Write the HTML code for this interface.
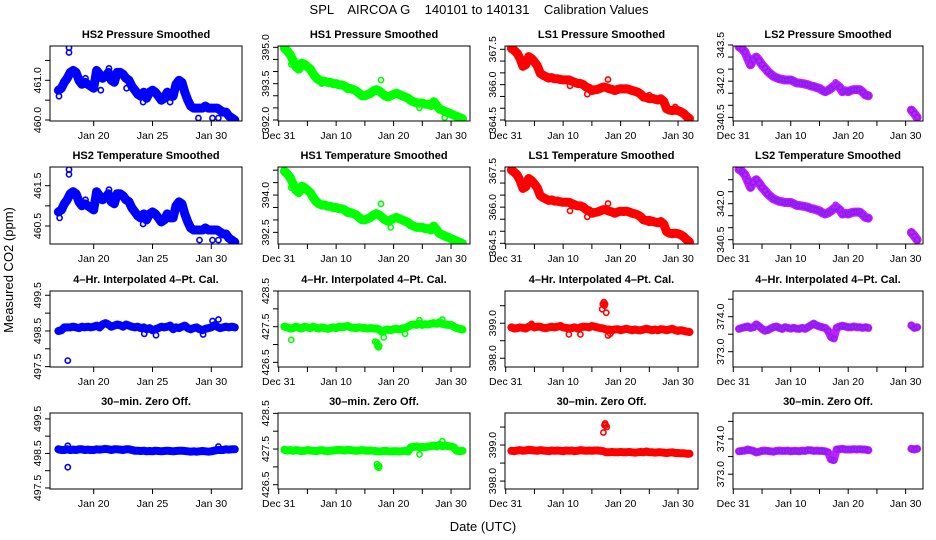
<!DOCTYPE html>
<html><head><meta charset="utf-8"><title>SPL AIRCOA G Calibration Values</title>
<style>
html,body{margin:0;padding:0;background:#fff;}
svg{display:block;font-family:"Liberation Sans",Arial,sans-serif;}
</style></head>
<body>
<svg id="chart" width="936" height="540" viewBox="0 0 936 540" xmlns="http://www.w3.org/2000/svg">
<rect x="0" y="0" width="936" height="540" fill="#fff"/>
<text x="479" y="14" font-size="13" text-anchor="middle" style="white-space:pre">SPL    AIRCOA G    140101 to 140131    Calibration Values</text>
<text x="13" y="270" font-size="13" text-anchor="middle" transform="rotate(-90 13 270)">Measured CO2 (ppm)</text>
<text x="483" y="531" font-size="13" text-anchor="middle">Date (UTC)</text>
<g id="panels"></g>
</svg>
<script>
// Shared date categories (day of January; Dec 31 = 0)
const daysA = [17,17.25,17.5,17.75,18,18.25,18.5,18.75,19,19.25,19.5,19.75,20,20.25,20.5,20.75,21,21.25,21.5,21.75,22,22.25,22.5,22.75,23,23.25,23.5,23.75,24,24.25,24.5,24.75,25,25.25,25.5,25.75,26,26.25,26.5,26.75,27,27.25,27.5,27.75,28,28.25,28.5,28.75,29,29.25,29.5,29.75,30,30.25,30.5,30.75,31,31.25,31.5,31.75,32];
const daysB = [1,1.5,2,2.5,3,3.5,4,4.5,5,5.5,6,6.5,7,7.5,8,8.5,9,9.5,10,10.5,11,11.5,12,12.5,13,13.5,14,14.5,15,15.5,16,16.5,17,17.5,18,18.5,19,19.5,20,20.5,21,21.5,22,22.5,23,23.5,24,24.5,25,25.5,26,26.5,27,27.5,28,28.5,29,29.5,30,30.5,31,31.5,32];

// Tick labels
const tickDaysA = [20,25,30];
const tickLabelsA = ["Jan 20","Jan 25","Jan 30"];
const tickDaysB = [0,5,10,15,20,25,30];
const tickLabelsB = ["Dec 31","","Jan 10","","Jan 20","","Jan 30"];

// Row 1 - Pressure smoothed
const hs2P = [460.75,460.8,460.95,461.05,461.2,461.25,461.2,461.0,460.9,460.95,460.9,460.85,460.8,461.25,461.15,461.05,461.1,461.2,461.0,460.95,461.2,461.2,461.15,461.05,461.0,460.85,460.75,460.65,460.6,460.7,460.55,460.7,460.75,460.7,460.6,460.5,460.55,460.7,460.6,460.6,460.9,461.0,460.95,460.7,460.5,460.35,460.3,460.3,460.3,460.3,460.35,460.3,460.3,460.3,460.3,460.25,460.2,460.2,460.1,460.05,460.0];
const hs2PExtraDays = [17.9,17.9,17.05,28.9,30.1,30.6,20.6,22.8,26.5,19.3,21.3,24.2];
const hs2PExtraVals = [461.7,461.82,460.6,460.05,460.05,460.05,460.75,460.8,460.45,461.05,461.3,460.45];
const hs1P = [394.96,394.85,394.7,394.45,394.2,394.1,394.35,394.3,394.2,394.1,393.9,393.75,393.65,393.6,393.6,393.55,393.55,393.5,393.5,393.45,393.45,393.4,393.3,393.3,393.25,393.2,393.1,393.0,393.0,393.05,393.1,393.2,393.25,393.2,393.1,393.0,392.95,393.0,393.05,393.1,393.05,393.0,392.95,392.9,392.8,392.75,392.7,392.7,392.7,392.65,392.65,392.6,392.75,392.6,392.45,392.4,392.35,392.3,392.25,392.2,392.15,392.1,392.05];
const hs1PExtraDays = [2.2,17.8,24.5,27,28.9,7.5];
const hs1PExtraVals = [394.3,393.65,392.5,392.8,392.1,393.5];
const ls1P = [367.54,367.45,367.33,367.1,366.78,366.85,367.19,367.1,366.97,366.8,366.48,366.4,366.34,366.28,366.3,366.25,366.25,366.22,366.2,366.2,366.2,366.15,366.1,366.05,366.05,366.0,365.9,365.85,365.75,365.78,365.8,365.85,365.9,365.88,365.83,365.8,365.75,365.8,365.83,365.82,365.83,365.8,365.75,365.72,365.68,365.6,365.47,365.45,365.4,365.42,365.38,365.35,365.4,365.3,364.98,364.92,364.9,364.92,364.9,364.85,364.77,364.65,364.56];
const ls1PExtraDays = [17.8,11.2,25.0,29.5,14.2];
const ls1PExtraVals = [366.22,365.95,365.55,365.05,365.6];
const ls2P = [343.43,343.35,343.22,342.95,342.68,342.9,343.0,342.85,342.68,342.55,342.4,342.3,342.2,342.15,342.1,342.08,342.05,342.05,342.05,342.0,341.93,341.92,341.9,341.88,341.85,341.8,341.78,341.74,341.7,341.62,341.57,341.62,341.7,341.8,341.85,341.75,341.57,341.6,341.57,341.62,341.65,341.65,341.65,341.55,341.43,341.4,null,null,null,null,null,null,null,null,null,null,null,null,null,null,340.8,340.66,340.5];
const ls2PExtraDays = [17.8];
const ls2PExtraVals = [341.95];

// Row 2 - Temperature smoothed
const hs2T = [460.85,460.9,461.05,461.15,461.3,461.35,461.3,461.1,461.0,461.05,461.0,460.95,460.9,461.35,461.25,461.15,461.2,461.3,461.1,461.05,461.3,461.3,461.25,461.15,461.1,460.95,460.85,460.75,460.7,460.8,460.65,460.8,460.85,460.8,460.7,460.6,460.65,460.8,460.7,460.7,461.0,461.1,461.05,460.8,460.6,460.45,460.4,460.4,460.4,460.4,460.45,460.4,460.4,460.4,460.4,460.35,460.3,460.3,460.2,460.15,460.1];
const hs2TExtraDays = [17.9,17.9,17.1,29,30.1,30.6,19.3,21.3,24.2];
const hs2TExtraVals = [461.9,461.78,460.7,460.15,460.15,460.15,461.15,461.4,460.55];
const hs1T = [394.96,394.85,394.7,394.45,394.2,394.1,394.35,394.3,394.2,394.1,393.9,393.75,393.65,393.6,393.6,393.55,393.55,393.5,393.5,393.45,393.45,393.4,393.3,393.3,393.25,393.2,393.1,393.0,393.0,393.05,393.1,393.2,393.25,393.2,393.1,393.0,392.95,393.0,393.05,393.1,393.05,393.0,392.95,392.9,392.8,392.75,392.7,392.7,392.7,392.65,392.65,392.6,392.75,392.6,392.45,392.4,392.35,392.3,392.25,392.2,392.15,392.1,392.05];
const hs1TExtraDays = [2.2,7.5,17.8,19.5,28.9,26.5];
const hs1TExtraVals = [394.3,393.6,393.65,392.7,392.3,392.55];
const ls1T = [367.54,367.45,367.33,367.1,366.78,366.85,367.19,367.1,366.97,366.8,366.48,366.4,366.34,366.28,366.3,366.25,366.25,366.22,366.2,366.2,366.2,366.15,366.1,366.05,366.05,366.0,365.9,365.85,365.75,365.78,365.8,365.85,365.9,365.88,365.83,365.8,365.75,365.8,365.83,365.82,365.83,365.8,365.75,365.72,365.68,365.6,365.47,365.45,365.4,365.42,365.38,365.35,365.4,365.3,364.98,364.92,364.9,364.92,364.9,364.85,364.77,364.65,364.56];
const ls1TExtraDays = [17.8,11.2,14.2,25];
const ls1TExtraVals = [366.15,365.85,365.6,365.5];
const ls2T = [343.43,343.35,343.22,342.95,342.68,342.9,343.0,342.85,342.68,342.55,342.4,342.3,342.2,342.15,342.1,342.08,342.05,342.05,342.05,342.0,341.93,341.92,341.9,341.88,341.85,341.8,341.78,341.74,341.7,341.62,341.57,341.62,341.7,341.8,341.85,341.75,341.57,341.6,341.57,341.62,341.65,341.65,341.65,341.55,341.43,341.4,null,null,null,null,null,null,null,null,null,null,null,null,null,null,340.8,340.66,340.5];
const ls2TExtraDays = [17.8];
const ls2TExtraVals = [341.95];

// Row 3 - 4-Hr interpolated 4-Pt cal
const hs2C = [498.5,498.52,498.6,498.6,498.6,498.62,498.6,498.58,498.62,498.6,498.62,498.6,498.62,498.65,498.6,498.68,498.72,498.68,498.62,498.65,498.68,498.66,498.62,498.68,498.65,498.62,498.6,498.62,498.58,498.6,498.55,498.58,498.52,498.55,498.58,498.62,498.6,498.62,498.65,498.55,498.6,498.58,498.62,498.65,498.58,498.55,498.58,498.6,498.55,498.52,498.56,498.58,498.6,498.66,498.62,498.58,498.6,498.62,498.6,498.62,498.6];
const hs2CExtraDays = [17.8,30.1,30.6,24.3,25.3,29.3];
const hs2CExtraVals = [497.67,498.78,498.82,498.42,498.38,498.4];
const hs1C = [427.5,427.48,427.45,427.46,427.5,427.47,427.45,427.5,427.48,427.46,427.5,427.47,427.45,427.48,427.46,427.44,427.46,427.48,427.46,427.5,427.48,427.5,427.52,427.48,427.47,427.46,427.48,427.47,427.46,427.45,427.46,427.45,427.45,427.42,427.35,427.4,427.42,427.4,427.43,427.44,427.42,427.45,427.46,427.5,427.55,427.56,427.55,427.58,427.55,427.57,427.56,427.58,427.6,427.58,427.62,427.58,427.56,427.55,427.55,427.5,427.46,427.44,427.42];
const hs1CExtraDays = [2.2,16.8,17.1,17.2,17.3,17.4,17.5,18.3,28.5,24.5,22];
const hs1CExtraVals = [427.13,427.08,427.06,426.95,427.0,426.92,426.97,427.2,427.7,427.68,427.3];
const ls1C = [398.88,398.85,398.86,398.88,398.87,398.85,398.9,398.92,398.88,398.9,398.9,398.87,398.86,398.88,398.9,398.88,398.9,398.92,398.88,398.87,398.85,398.86,398.88,398.85,398.88,398.9,398.9,398.88,398.92,398.9,398.88,398.86,398.85,398.82,398.82,398.8,398.82,398.83,398.8,398.82,398.84,398.82,398.8,398.82,398.8,398.8,398.82,398.84,398.82,398.8,398.82,398.8,398.83,398.82,398.8,398.82,398.84,398.8,398.78,398.8,398.78,398.76,398.75];
const ls1CExtraDays = [16.8,16.9,17.1,17.2,17.3,17.5,11,13,4.5,17.8,18.2];
const ls1CExtraVals = [399.4,399.55,399.6,399.5,399.55,399.3,398.68,398.68,398.98,398.65,398.7];
const ls2C = [373.65,373.68,373.7,373.72,373.68,373.7,373.78,373.72,373.65,373.6,373.62,373.66,373.7,373.72,373.68,373.65,373.7,373.68,373.66,373.68,373.66,373.65,373.68,373.65,373.7,373.75,373.8,373.75,373.72,373.7,373.68,373.6,373.42,373.38,373.68,373.72,373.74,373.72,373.7,373.7,373.72,373.7,373.7,373.68,373.7,373.68,null,null,null,null,null,null,null,null,null,null,null,null,null,null,373.75,373.68,373.7];
const ls2CExtraDays = [];
const ls2CExtraVals = [];

// Row 4 - 30-min zero offset
const hs2Z = [498.62,498.6,498.6,498.62,498.6,498.61,498.6,498.62,498.62,498.6,498.61,498.6,498.6,498.62,498.61,498.62,498.63,498.62,498.6,498.62,498.62,498.61,498.6,498.62,498.62,498.6,498.58,498.58,498.57,498.58,498.56,498.57,498.56,498.58,498.57,498.56,498.57,498.58,498.57,498.56,498.57,498.58,498.58,498.57,498.56,498.55,498.56,498.55,498.56,498.57,498.56,498.55,498.56,498.58,498.6,498.6,498.6,498.62,498.61,498.62,498.62];
const hs2ZExtraDays = [17.8,17.8,30.6];
const hs2ZExtraVals = [498.1,498.72,498.7];
const hs1Z = [427.48,427.46,427.47,427.45,427.47,427.46,427.44,427.45,427.47,427.46,427.45,427.44,427.46,427.47,427.45,427.44,427.45,427.46,427.47,427.48,427.47,427.46,427.48,427.47,427.46,427.45,427.46,427.47,427.46,427.45,427.46,427.45,427.44,427.43,427.44,427.45,427.44,427.43,427.44,427.44,427.43,427.44,427.45,427.43,427.55,427.56,427.57,427.55,427.56,427.55,427.57,427.58,427.6,427.57,427.62,427.58,427.6,427.58,427.57,427.55,427.45,427.44,427.45];
const hs1ZExtraDays = [17.1,17.2,17.3,17.4,17.5,28.5,24.5];
const hs1ZExtraVals = [427.08,427.0,427.02,426.97,427.02,427.72,427.35];
const ls1Z = [398.84,398.83,398.85,398.86,398.84,398.85,398.87,398.86,398.85,398.84,398.86,398.85,398.84,398.83,398.85,398.84,398.85,398.84,398.83,398.85,398.84,398.85,398.83,398.84,398.86,398.85,398.84,398.85,398.84,398.85,398.85,398.84,398.83,398.8,398.8,398.81,398.8,398.8,398.81,398.8,398.8,398.81,398.8,398.79,398.8,398.81,398.8,398.82,398.8,398.8,398.79,398.8,398.8,398.79,398.78,398.79,398.8,398.78,398.78,398.77,398.77,398.76,398.76];
const ls1ZExtraDays = [17.0,17.2,17.3,17.4,17.6];
const ls1ZExtraVals = [399.35,399.55,399.6,399.55,399.5];
const ls2Z = [373.65,373.66,373.67,373.7,373.68,373.66,373.62,373.64,373.66,373.67,373.66,373.65,373.64,373.66,373.67,373.66,373.66,373.67,373.65,373.66,373.66,373.65,373.67,373.66,373.68,373.68,373.66,373.67,373.66,373.66,373.65,373.62,373.42,373.4,373.7,373.71,373.72,373.7,373.7,373.7,373.71,373.7,373.71,373.7,373.7,373.68,null,null,null,null,null,null,null,null,null,null,null,null,null,null,373.72,373.7,373.72];
const ls2ZExtraDays = [];
const ls2ZExtraVals = [];

// Y tick values and labels per panel
const yTicksHS2P = [460,460.5,461,461.5], yLabHS2P = ["460.0","","461.0",""];
const yTicksHS1P = [392,392.5,393,393.5,394,394.5,395], yLabHS1P = ["392.0","","","393.5","","","395.0"];
const yTicksLS1P = [364.5,365,365.5,366,366.5,367,367.5], yLabLS1P = ["364.5","","","366.0","","","367.5"];
const yTicksLS2P = [340.5,341,341.5,342,342.5,343,343.5], yLabLS2P = ["340.5","","","342.0","","","343.5"];
const yTicksHS2T = [460.5,461,461.5], yLabHS2T = ["460.5","","461.5"];
const yTicksHS1T = [392.5,393,393.5,394,394.5,395], yLabHS1T = ["392.5","","","394.0","",""];
const yTicksLS1T = [364.5,365,365.5,366,366.5,367,367.5], yLabLS1T = ["364.5","","","366.0","","","367.5"];
const yTicksLS2T = [340.5,341,341.5,342,342.5,343], yLabLS2T = ["340.5","","","342.0","",""];
const yTicksHS2C = [497.5,498,498.5,499,499.5], yLabHS2C = ["497.5","","498.5","","499.5"];
const yTicksHS1C = [426.5,427,427.5,428,428.5], yLabHS1C = ["426.5","","427.5","","428.5"];
const yTicksLS1C = [398,398.5,399,399.5], yLabLS1C = ["398.0","","399.0",""];
const yTicksLS2C = [373,373.5,374,374.5], yLabLS2C = ["373.0","","374.0",""];

const NS = "http://www.w3.org/2000/svg";
const root = document.getElementById("panels");

// Layout (pixel geometry)
const colLeft = [50, 278, 505, 733];
const colWidth = [192, 192, 193, 190];
const rowTop = [46, 167, 291, 413];
const rowHeight = [75, 77, 76, 76];
const bandColors = ["#0000ff", "#00ff00", "#ff0000", "#c020ff"];
const pointColors = ["#0000ff", "#00ff00", "#ff0000", "#8a1cf0"];
const colorNames = ["hs2", "hs1", "ls1", "ls2"];

function xScale(col, d) {
  if (col === 0) return 93.7 + (d - 20) * 11.76;
  const origin = [0, 278.7, 505.7, 733.3][col];
  return origin + d * 5.745;
}
function makeYScale(row, vTop, vBot) {
  const t = rowTop[row], h = rowHeight[row];
  return v => t + (vTop - v) / (vTop - vBot) * h;
}

const panels = [
  {r:0,c:0,title:"HS2 Pressure Smoothed",vals:hs2P,ed:hs2PExtraDays,ev:hs2PExtraVals,dom:[461.864,459.975],yt:yTicksHS2P,yl:yLabHS2P},
  {r:0,c:1,title:"HS1 Pressure Smoothed",vals:hs1P,ed:hs1PExtraDays,ev:hs1PExtraVals,dom:[395.054,391.958],yt:yTicksHS1P,yl:yLabHS1P},
  {r:0,c:2,title:"LS1 Pressure Smoothed",vals:ls1P,ed:ls1PExtraDays,ev:ls1PExtraVals,dom:[367.64,364.458],yt:yTicksLS1P,yl:yLabLS1P},
  {r:0,c:3,title:"LS2 Pressure Smoothed",vals:ls2P,ed:ls2PExtraDays,ev:ls2PExtraVals,dom:[343.459,340.349],yt:yTicksLS2P,yl:yLabLS2P},
  {r:1,c:0,title:"HS2 Temperature Smoothed",vals:hs2T,ed:hs2TExtraDays,ev:hs2TExtraVals,dom:[461.964,460.053],yt:yTicksHS2T,yl:yLabHS2T},
  {r:1,c:1,title:"HS1 Temperature Smoothed",vals:hs1T,ed:hs1TExtraDays,ev:hs1TExtraVals,dom:[395.128,392.032],yt:yTicksHS1T,yl:yLabHS1T},
  {r:1,c:2,title:"LS1 Temperature Smoothed",vals:ls1T,ed:ls1TExtraDays,ev:ls1TExtraVals,dom:[367.666,364.471],yt:yTicksLS1T,yl:yLabLS1T},
  {r:1,c:3,title:"LS2 Temperature Smoothed",vals:ls2T,ed:ls2TExtraDays,ev:ls2TExtraVals,dom:[343.529,340.321],yt:yTicksLS2T,yl:yLabLS2T},
  {r:2,c:0,title:"4\u2013Hr. Interpolated 4\u2013Pt. Cal.",vals:hs2C,ed:hs2CExtraDays,ev:hs2CExtraVals,dom:[499.62,497.49],yt:yTicksHS2C,yl:yLabHS2C},
  {r:2,c:1,title:"4\u2013Hr. Interpolated 4\u2013Pt. Cal.",vals:hs1C,ed:hs1CExtraDays,ev:hs1CExtraVals,dom:[428.5,426.37],yt:yTicksHS1C,yl:yLabHS1C},
  {r:2,c:2,title:"4\u2013Hr. Interpolated 4\u2013Pt. Cal.",vals:ls1C,ed:ls1CExtraDays,ev:ls1CExtraVals,dom:[399.92,397.75],yt:yTicksLS1C,yl:yLabLS1C},
  {r:2,c:3,title:"4\u2013Hr. Interpolated 4\u2013Pt. Cal.",vals:ls2C,ed:ls2CExtraDays,ev:ls2CExtraVals,dom:[374.734,372.563],yt:yTicksLS2C,yl:yLabLS2C},
  {r:3,c:0,title:"30\u2013min. Zero Off.",vals:hs2Z,ed:hs2ZExtraDays,ev:hs2ZExtraVals,dom:[499.67,497.47],yt:yTicksHS2C,yl:yLabHS2C},
  {r:3,c:1,title:"30\u2013min. Zero Off.",vals:hs1Z,ed:hs1ZExtraDays,ev:hs1ZExtraVals,dom:[428.51,426.38],yt:yTicksHS1C,yl:yLabHS1C},
  {r:3,c:2,title:"30\u2013min. Zero Off.",vals:ls1Z,ed:ls1ZExtraDays,ev:ls1ZExtraVals,dom:[399.89,397.78],yt:yTicksLS1C,yl:yLabLS1C},
  {r:3,c:3,title:"30\u2013min. Zero Off.",vals:ls2Z,ed:ls2ZExtraDays,ev:ls2ZExtraVals,dom:[374.737,372.58],yt:yTicksLS2C,yl:yLabLS2C}
];

function el(tag, attrs, parent) {
  const e = document.createElementNS(NS, tag);
  for (const k in attrs) e.setAttribute(k, attrs[k]);
  parent.appendChild(e);
  return e;
}

panels.forEach((p, idx) => {
  const L = colLeft[p.c], W = colWidth[p.c], T = rowTop[p.r], H = rowHeight[p.r];
  const B = T + H;
  const y = makeYScale(p.r, p.dom[0], p.dom[1]);
  const days = p.c === 0 ? daysA : daysB;
  const band = bandColors[p.c], pc = pointColors[p.c];
  const bw = p.r < 2 ? 9 : 8;
  const g = el("g", {}, root);
  
  

  const title = el("text", {x: L + W / 2, y: T - 8, "font-size": 11, "font-weight": "bold", "text-anchor": "middle"}, g);
  title.textContent = p.title;
  
  

  const cid = "clip" + idx;
  const cp = el("clipPath", {id: cid}, g);
  el("rect", {x: L, y: T, width: W, height: H}, cp);
  const plot = el("g", {"clip-path": "url(#" + cid + ")"}, g);
  
  

  let seg = [];
  const segs = [];
  p.vals.forEach((v, i) => {
    if (v === null) { if (seg.length) segs.push(seg); seg = []; }
    else seg.push([xScale(p.c, days[i]), y(v)]);
  });
  if (seg.length) segs.push(seg);
  segs.forEach(s => {
    const pl = el("polyline", {points: s.map(q => q[0].toFixed(1) + "," + q[1].toFixed(1)).join(" "), fill: "none", stroke: band, "stroke-width": bw, "stroke-linejoin": "round", "stroke-linecap": "round"}, plot);
    
    
  });
  p.vals.forEach((v, i) => {
    if (v === null) return;
    const c = el("circle", {cx: xScale(p.c, days[i]).toFixed(1), cy: y(v).toFixed(1), r: 2.6, fill: "none", stroke: pc, "stroke-width": 1.2}, plot);
    
    
  });
  p.ed.forEach((d, i) => {
    const c = el("circle", {cx: xScale(p.c, d).toFixed(1), cy: y(p.ev[i]).toFixed(1), r: 2.6, fill: "none", stroke: band, "stroke-width": 1.6}, plot);
    
    
  });

  const box = el("rect", {x: L, y: T, width: W, height: H, fill: "none", stroke: "#000", "stroke-width": 1}, g);
  
  

  p.yt.forEach((v, i) => {
    const yy = y(v);
    const t = el("line", {x1: L - 5, x2: L, y1: yy, y2: yy, stroke: "#000", "stroke-width": 1}, g);
    
    
    if (p.yl[i]) {
      const tx = L - 9;
      const lab = el("text", {x: tx, y: yy, "font-size": 10.5, "text-anchor": "middle", transform: "rotate(-90 " + tx + " " + yy + ")"}, g);
      lab.textContent = p.yl[i];
      
      
    }
  });

  const td = p.c === 0 ? tickDaysA : tickDaysB;
  const tl = p.c === 0 ? tickLabelsA : tickLabelsB;
  td.forEach((d, i) => {
    const xx = xScale(p.c, d);
    const t = el("line", {x1: xx, x2: xx, y1: B, y2: B + 5, stroke: "#000", "stroke-width": 1}, g);
    
    
    if (tl[i]) {
      const lab = el("text", {x: xx, y: B + 18, "font-size": 10.5, "text-anchor": "middle"}, g);
      lab.textContent = tl[i];
      
      
    }
  });
});
</script>
</body></html>
